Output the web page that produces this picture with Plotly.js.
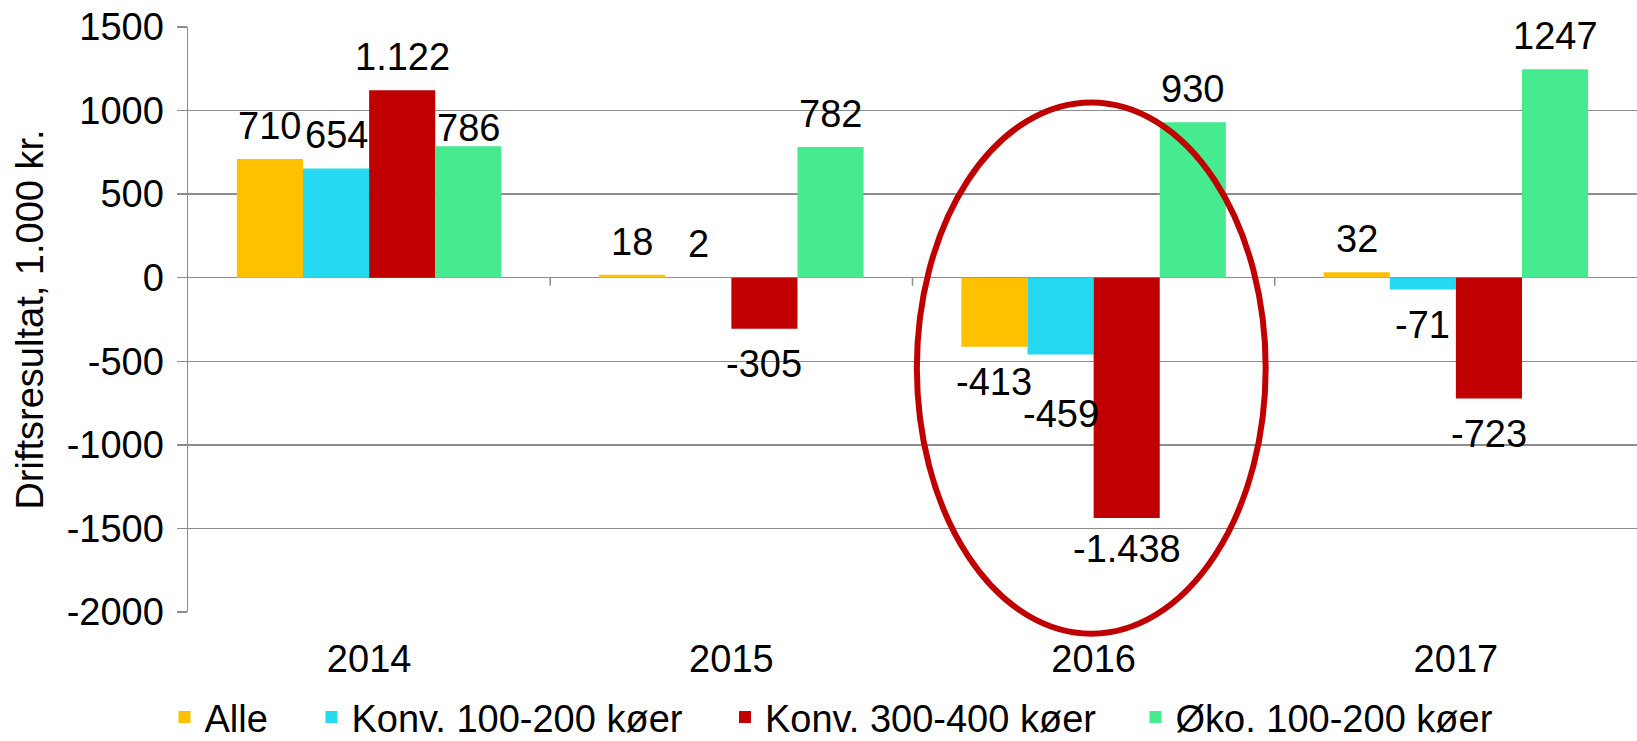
<!DOCTYPE html>
<html>
<head>
<meta charset="utf-8">
<script src="https://cdn.plot.ly/plotly-3.0.1.min.js"></script>
<style>html,body{margin:0;padding:0;background:#fff;}#chart{width:1637px;height:741px;}</style>
</head>
<body>
<div id="chart"></div>
<script>
// ---- data ----
const categories = ['2014', '2015', '2016', '2017'];
const seriesNames = ['Alle', 'Konv. 100-200 køer', 'Konv. 300-400 køer', 'Øko. 100-200 køer'];
const alle     = [710, 18, -413, 32];
const konv100  = [654, 2, -459, -71];
const konv300  = [1122, -305, -1438, -723];
const oko100   = [786, 782, 930, 1247];
const alleLabels    = ['710', '18', '-413', '32'];
const konv100Labels = ['654', '2', '-459', '-71'];
const konv300Labels = ['1.122', '-305', '-1.438', '-723'];
const oko100Labels  = ['786', '782', '930', '1247'];
const yTickValues = [-2000, -1500, -1000, -500, 0, 500, 1000, 1500];
const yTickLabels = ['-2000', '-1500', '-1000', '-500', '0', '500', '1000', '1500'];
const colors = ['#FFC000', '#25D9F0', '#C00000', '#46EA8F'];
const yTitle = 'Driftsresultat, 1.000 kr.';

// ---- layout / style constants ----
const W = 1637, H = 741;
const M = {l: 188, r: 0, t: 27, b: 129, autoexpand: false};
const yRange = [-2000, 1500];
const bargap = 0.27;
const FONT = 'Liberation Sans, Arial, sans-serif';
const FS = 38;
const GRID = '#8c8c8c';
// manual label nudges as in the original (pixels, "series,category")
const labelNudgePx = {'3,0': -15, '1,2': -25, '2,2': 4};

const values = [alle, konv100, konv300, oko100];
const labels = [alleLabels, konv100Labels, konv300Labels, oko100Labels];
const legendIds = ['legend', 'legend2', 'legend3', 'legend4'];

const traces = values.map((v, i) => ({
  type: 'bar',
  name: seriesNames[i],
  x: categories,
  y: v,
  legend: legendIds[i],
  marker: {color: colors[i], line: {width: 0}},
  hoverinfo: 'x+y+name'
}));

// data labels as annotations, positioned over each bar
const plotW = W - M.l - M.r;
const catPx = plotW / categories.length;
const barPx = catPx * (1 - bargap) / values.length;
const annotations = [];
values.forEach((v, s) => {
  v.forEach((val, c) => {
    const nudge = labelNudgePx[s + ',' + c] || 0;
    annotations.push({
      x: c, y: val, xref: 'x', yref: 'y',
      text: labels[s][c], showarrow: false,
      xshift: (s - (values.length - 1) / 2) * barPx,
      yanchor: val >= 0 ? 'bottom' : 'top',
      yshift: (val >= 0 ? 10 : -12) + nudge,
      font: {family: FONT, size: FS, color: '#000'}
    });
  });
});

// boundary tick marks on the zero line
const shapes = [];
for (let i = 0; i < categories.length - 1; i++) {
  shapes.push({
    type: 'line', xref: 'x', yref: 'y', x0: i + 0.5, x1: i + 0.5,
    ysizemode: 'pixel', yanchor: 0, y0: 0, y1: -8,
    line: {color: GRID, width: 1.5}
  });
}
// highlight ellipse around 2016
const hi = categories.indexOf('2016');
shapes.push({
  type: 'circle', xref: 'x', yref: 'paper',
  x0: hi - 0.488, x1: hi + 0.475, y0: -0.037, y1: 0.871,
  line: {color: '#C00000', width: 6}, fillcolor: 'rgba(0,0,0,0)', layer: 'above'
});

// legend positions (pixel x of each entry start)
const legendPx = [164.5, 311.5, 725, 1135.5];
const legendCfg = (px) => ({
  orientation: 'h', x: (px - M.l) / plotW, xanchor: 'left',
  y: -0.18, yanchor: 'middle',
  font: {family: FONT, size: FS, color: '#000'},
  bgcolor: 'rgba(0,0,0,0)', borderwidth: 0,
  itemclick: false, itemdoubleclick: false
});

const layout = {
  width: W, height: H,
  margin: M,
  paper_bgcolor: '#fff', plot_bgcolor: '#fff',
  font: {family: FONT, size: FS, color: '#000'},
  barmode: 'group', bargap: bargap, bargroupgap: 0,
  showlegend: true,
  legend: legendCfg(legendPx[0]),
  legend2: legendCfg(legendPx[1]),
  legend3: legendCfg(legendPx[2]),
  legend4: legendCfg(legendPx[3]),
  xaxis: {
    type: 'category', categoryorder: 'array', categoryarray: categories,
    range: [-0.5, categories.length - 0.5],
    showline: false, showgrid: false, zeroline: false, ticks: '',
    tickfont: {family: FONT, size: FS, color: '#000'},
    ticklabelstandoff: 21, automargin: false, fixedrange: true
  },
  yaxis: {
    range: yRange, autorange: false,
    tickmode: 'array', tickvals: yTickValues, ticktext: yTickLabels,
    showgrid: true, gridcolor: GRID, gridwidth: 1.3,
    zeroline: true, zerolinecolor: GRID, zerolinewidth: 1.5,
    showline: true, linecolor: GRID, linewidth: 1.5,
    ticks: 'outside', ticklen: 10, tickcolor: GRID, tickwidth: 1.3,
    tickfont: {family: FONT, size: FS, color: '#000'},
    ticklabelstandoff: 5,
    title: {text: yTitle, font: {family: FONT, size: FS, color: '#000'}, standoff: 11},
    automargin: false, fixedrange: true
  },
  annotations: annotations,
  shapes: shapes
};

Plotly.newPlot('chart', traces, layout, {displayModeBar: false, staticPlot: true});
</script>
</body>
</html>
